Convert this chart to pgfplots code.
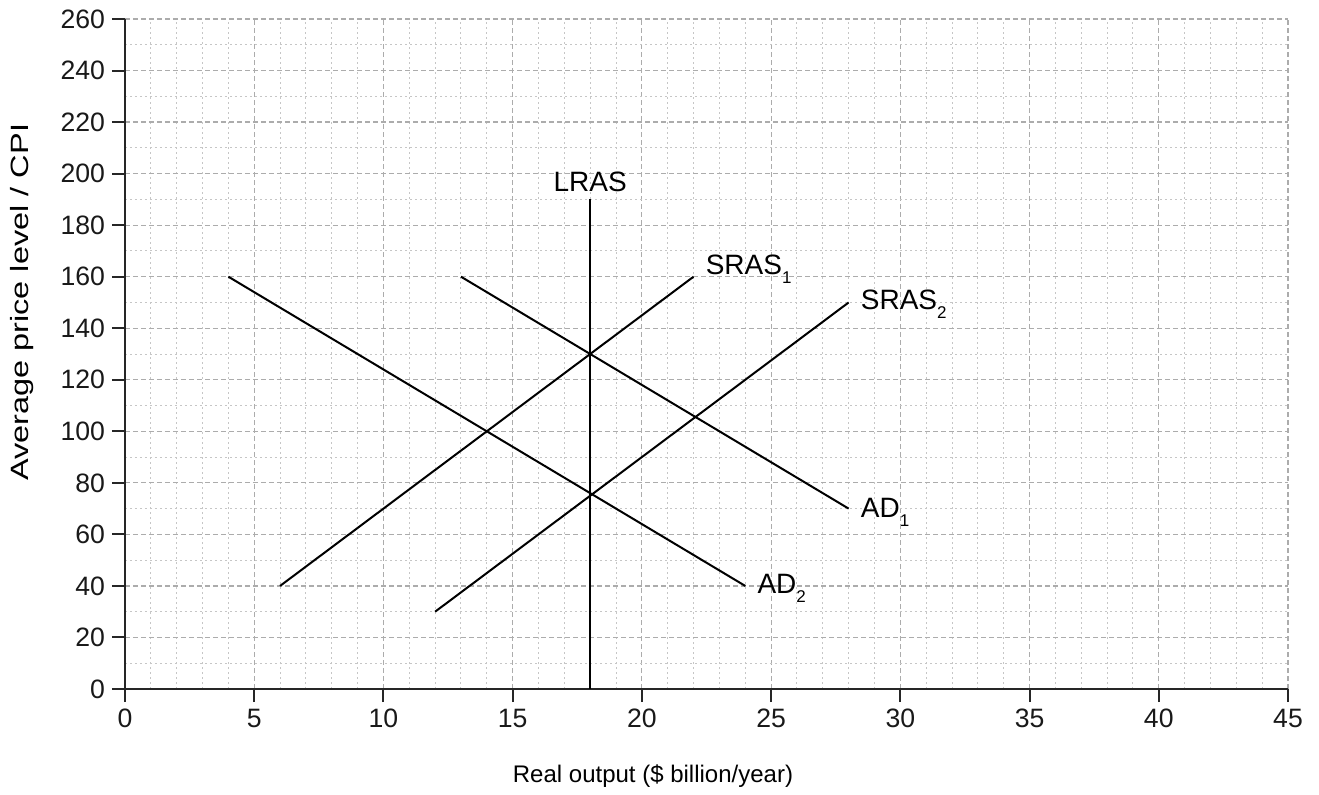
\documentclass[border=0pt]{standalone}
\usepackage{fontspec}
\setmainfont{Liberation Sans}
\usepackage{pgfplots}
\pgfplotsset{compat=1.18}
\newcommand{\sub}[1]{\raisebox{-4.5pt}{\fontsize{8.5}{9}\selectfont #1}}
\begin{document}
\begin{tikzpicture}
\begin{axis}[
 scale only axis, width=581.5pt, height=335pt,
 xmin=0, xmax=45, ymin=0, ymax=260,
 axis lines=left,
 axis line style={-, line width=1.2pt, black!85},
 xtick={0,5,...,45}, ytick={0,20,...,260},
 minor x tick num=4, minor y tick num=1,
 tick align=outside, major tick length=6.5pt, minor tick length=0pt,
 tick style={line width=1pt, black!85},
 grid=both,
 major grid style={dash pattern=on 2.5pt off 1.5pt, gray!65, line width=0.6pt},
 minor grid style={dash pattern=on 1pt off 1.5pt, gray!45, line width=0.5pt},
 ticklabel style={font=\fontsize{13.3}{15}\selectfont, black!90},
 /pgf/number format/assume math mode=true,
 xlabel={Real output (\$ billion/year)},
 ylabel={\scalebox{1.3}[1]{Average price level / CPI}},
 xlabel style={at={(axis description cs:0.454,-0.1299)}, anchor=center, font=\fontsize{12}{14}\selectfont},
 ylabel style={at={(axis description cs:-0.0886,0.577)}, anchor=center, font=\fontsize{12.5}{14}\selectfont},
 clip=false,
]
\addplot[black, line width=1pt] coordinates {(18,0) (18,190)};
\addplot[black, line width=1pt] coordinates {(6,40) (22,160)};
\addplot[black, line width=1pt] coordinates {(12,30) (28,150)};
\addplot[black, line width=1pt] coordinates {(13,160) (28,70)};
\addplot[black, line width=1pt] coordinates {(4,160) (24,40)};
\node[anchor=south, font=\fontsize{14}{15}\selectfont, inner sep=1pt] at (axis cs:18,192) {LRAS};
\node[anchor=west, font=\fontsize{14}{15}\selectfont] at (axis cs:22.2,163) {SRAS\sub{1}};
\node[anchor=west, font=\fontsize{14}{15}\selectfont] at (axis cs:28.2,149.5) {SRAS\sub{2}};
\node[anchor=west, font=\fontsize{14}{15}\selectfont] at (axis cs:28.2,68.5) {AD\sub{1}};
\node[anchor=west, font=\fontsize{14}{15}\selectfont] at (axis cs:24.2,39) {AD\sub{2}};
\end{axis}
\pgfresetboundingbox
\path (-62.5pt,-52.5pt) rectangle (597pt,344.5pt);
\end{tikzpicture}
\end{document}
